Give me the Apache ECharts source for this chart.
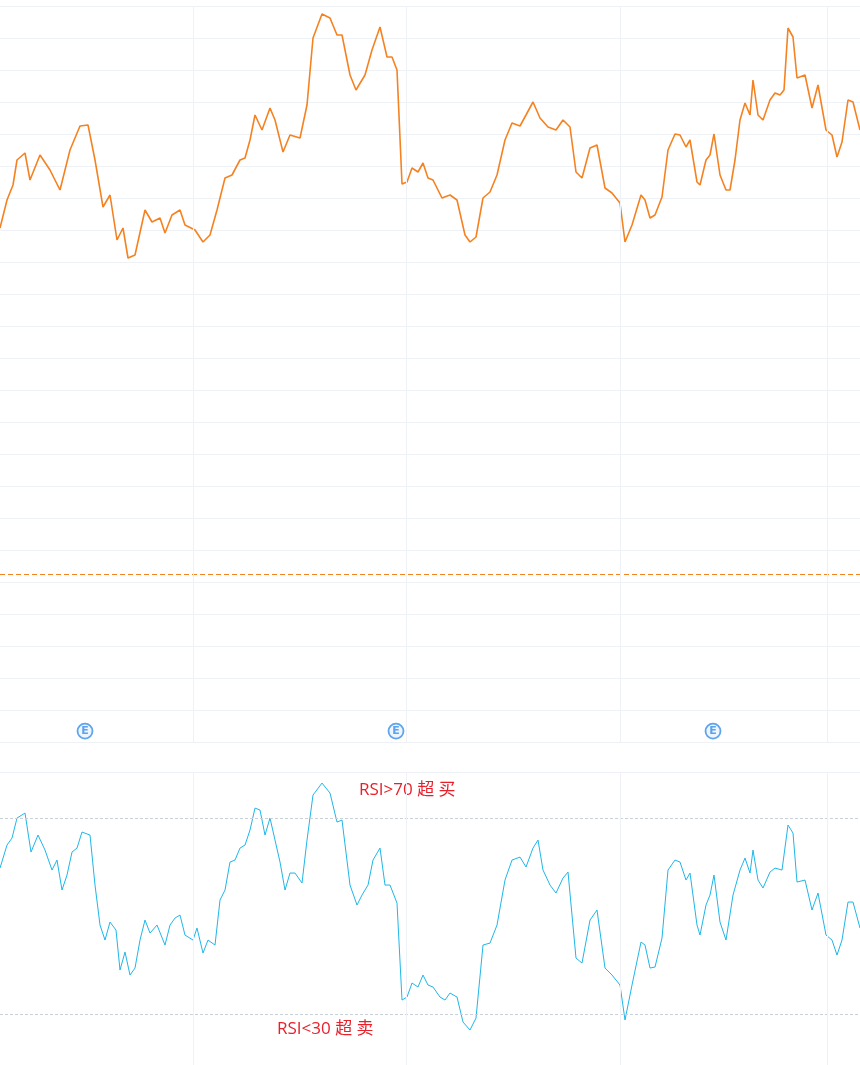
<!DOCTYPE html><html><head><meta charset="utf-8"><script src="https://cdn.jsdelivr.net/npm/echarts@6/dist/echarts.min.js"></script>
<style>html,body{margin:0;padding:0;background:#fff}#c{width:860px;height:1065px}</style></head><body><div id="c"></div>
<script>
// time position (t) and readings
const priceT=[0,7,13,17,25,30,40,50,60,70,80,88,95,103,110,117,123,128,135,145,152,160,165,172,180,185,195,203,210,217,225,232,240,245,250,255,262,270,275,283,290,300,307,313,322,330,337,342,350,356,365,372,380,387,392,397,402,407,412,418,423,428,433,442,450,457,465,470,476,483,490,497,505,512,520,526,533,540,548,556,563,570,576,582,590,597,605,612,620,625,632,641,645,650,655,662,668,675,680,686,690,697,700,706,710,714,720,726,730,735,740,745,750,753,758,763,770,775,780,784,788,793,797,805,812,818,826,832,837,842,848,853,860];
const priceRaw=[228,200,185,160,153,180,155,170,190,150,126,125,160,207,195,240,228,258,255,210,222,218,233,215,210,225,230,242,235,210,178,175,160,158,140,115,130,108,120,152,135,138,105,38,14,18,35,35,75,90,75,50,27,57,57,70,184,182,168,172,163,178,180,198,195,200,235,242,237,198,192,175,140,123,126,115,102,118,127,130,120,127,172,178,148,145,188,193,203,242,225,195,200,218,215,197,150,134,135,147,140,182,185,160,155,134,175,190,190,160,120,103,115,80,115,120,100,93,95,90,28,37,78,75,108,85,130,135,157,142,100,102,130];
const rsiT=[0,7,12,17,25,31,38,45,52,57,62,67,72,77,82,90,95,100,105,110,116,120,125,130,135,140,145,150,157,165,170,175,180,185,193,197,203,208,215,220,225,230,235,240,245,250,255,260,265,270,275,280,285,290,295,302,307,313,322,330,337,342,350,357,362,368,373,380,385,390,397,402,407,412,418,423,428,433,440,445,450,457,463,470,476,483,490,497,505,512,520,526,533,538,543,550,556,563,568,576,582,590,597,605,612,620,625,632,641,645,650,655,662,668,675,680,686,690,697,700,706,710,714,720,726,733,740,745,750,753,758,763,770,775,782,788,793,797,805,812,818,826,832,837,842,848,853,860];
const rsiRaw=[868,845,838,818,813,852,835,850,870,860,890,875,852,848,832,835,885,925,940,922,930,970,952,975,968,940,920,933,925,945,925,918,915,935,940,928,953,940,945,900,890,862,860,848,845,830,808,810,835,818,840,862,890,873,873,883,840,795,783,793,822,820,885,905,895,885,860,848,885,885,903,1000,997,983,987,975,985,987,997,1000,993,997,1022,1030,1018,945,943,925,880,860,857,867,848,840,870,885,893,878,872,958,963,920,910,968,975,985,1020,985,942,945,968,967,938,870,860,862,880,873,925,935,905,895,875,922,940,895,870,858,873,850,880,888,872,868,870,825,833,882,880,910,893,935,940,955,940,902,902,928];
const eventT=[85,396,713];
const monthLines=[193,406,620,827];
const priceData=priceT.map((t,i)=>[t,(742-priceRaw[i])/32]);
const rsiData=rsiT.map((t,i)=>[t,(1161-rsiRaw[i])/4.9]);
const grid='#eef1f5';
const chart=echarts.init(document.getElementById('c'));
chart.setOption({animation:false,
grid:[{left:0,right:0,top:6,height:736},{left:0,right:0,top:772,bottom:0}],
xAxis:[{type:'value',gridIndex:0,min:0,max:860,show:false},{type:'value',gridIndex:1,min:0,max:860,show:false}],
yAxis:[{type:'value',gridIndex:0,min:0,max:23,interval:1,axisLine:{show:false},axisTick:{show:false},axisLabel:{show:false},splitLine:{lineStyle:{color:grid}}},
{type:'value',gridIndex:1,min:19.6,max:79.4,interval:59.8,axisLine:{show:false},axisTick:{show:false},axisLabel:{show:false},splitLine:{lineStyle:{color:grid}}}],
series:[
{type:'line',xAxisIndex:0,yAxisIndex:0,data:priceData,symbol:'none',lineStyle:{color:'#f58220',width:1.6},
 markLine:{silent:true,symbol:'none',label:{show:false},data:[{yAxis:5.25,lineStyle:{color:'#f58220',type:[5,3],width:1}}].concat(monthLines.map(x=>({xAxis:x,lineStyle:{color:grid,type:'solid',width:1}})))}},
{type:'scatter',xAxisIndex:0,yAxisIndex:0,data:eventT.map(t=>[t,0.34]),symbol:'circle',symbolSize:15,itemStyle:{color:'#e8f3ff',borderColor:'#3a8ee6',borderWidth:1.8},label:{show:true,position:'inside',formatter:'E',color:'#3a8ee6',fontSize:11,fontWeight:'bold',fontFamily:'DejaVu Sans'}},
{type:'line',xAxisIndex:1,yAxisIndex:1,data:rsiData,symbol:'none',lineStyle:{color:'#1fb6e8',width:1},
 markLine:{silent:true,symbol:'none',label:{show:false},data:[{yAxis:70,lineStyle:{color:'#c8d0d8',type:[3,2],width:1}},{yAxis:30,lineStyle:{color:'#c8d0d8',type:[3,2],width:1}}].concat(monthLines.map(x=>({xAxis:x,lineStyle:{color:grid,type:'solid',width:1}})))}}
],
graphic:[{type:'text',left:359,top:782,style:{text:'RSI>70 超 买',fill:'#e8202a',font:'17px "Open Sans","Noto Sans CJK SC"'}},
{type:'text',left:277,top:1021,style:{text:'RSI<30 超 卖',fill:'#e8202a',font:'17px "Open Sans","Noto Sans CJK SC"'}}]
});
</script></body></html>
